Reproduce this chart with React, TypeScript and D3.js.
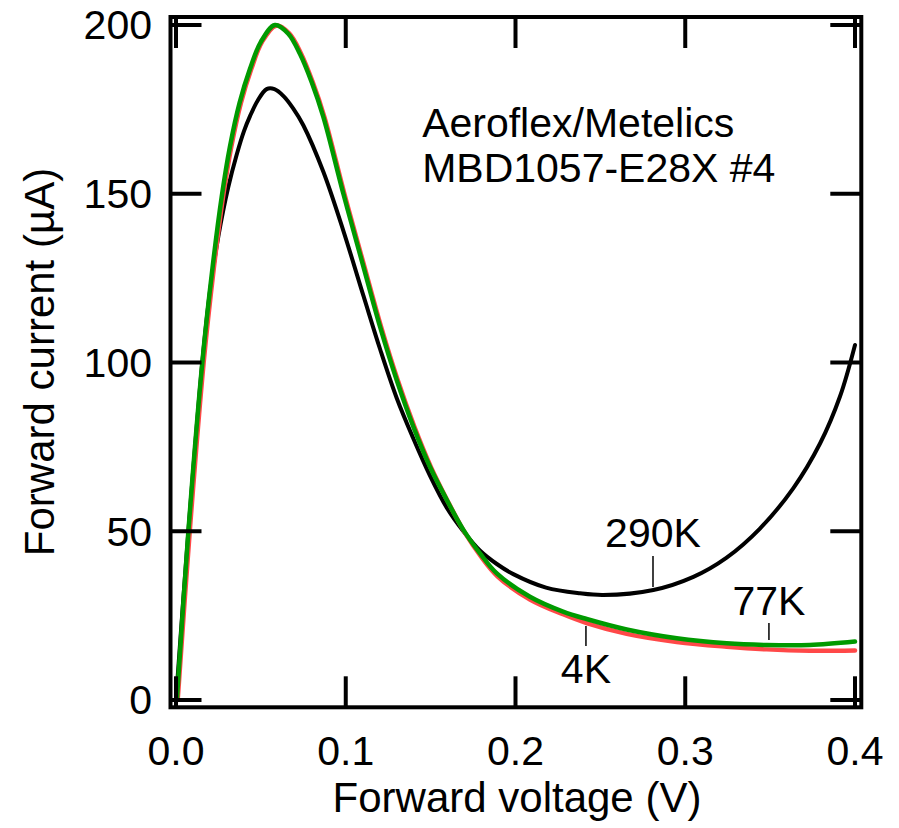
import React from 'react';
import * as d3 from 'd3';

const width = 899;
const height = 828;

const xTicks = [0, 0.1, 0.2, 0.3, 0.4];
const yTicks = [0, 50, 100, 150, 200];

// 290K (black)
const volt290 = [0, 0.0073, 0.0155, 0.02, 0.025, 0.0308, 0.0357, 0.04, 0.0436, 0.048, 0.0534, 0.058, 0.0632, 0.069, 0.075, 0.0868, 0.0986, 0.1104, 0.1202, 0.130, 0.1398, 0.1496, 0.1595, 0.1693, 0.179, 0.189, 0.1987, 0.218, 0.238, 0.2517, 0.2812, 0.3048, 0.3244, 0.344, 0.3637, 0.3794, 0.3912, 0.40];
const cur290 = [0, 50, 100, 121, 137.5, 152, 161.5, 168.5, 173, 177.5, 181, 181, 179, 175.3, 170.3, 156.5, 139, 119.8, 104, 89.5, 77.5, 66.5, 57, 50, 44.3, 40.3, 37.3, 33.3, 31.6, 31.1, 32.6, 36.5, 42.2, 50.8, 62.8, 76, 90, 105.2];

// 77K (green)
const volt77 = [0.0005, 0.0073, 0.0155, 0.0215, 0.0269, 0.0318, 0.0375, 0.0436, 0.05, 0.0583, 0.066, 0.073, 0.08, 0.0868, 0.0986, 0.1104, 0.1202, 0.130, 0.1398, 0.1496, 0.1595, 0.1693, 0.179, 0.189, 0.2085, 0.228, 0.2419, 0.2655, 0.295, 0.3244, 0.348, 0.3733, 0.40];
const cur77 = [0, 50, 100, 128, 149, 164, 177, 187, 195, 200, 197.5, 191.5, 183, 172.8, 150, 128.4, 110.6, 94.8, 81, 69.1, 59.3, 50.4, 43.5, 37.5, 30.6, 26.2, 24, 20.9, 18.3, 16.8, 16.3, 16.3, 17.3];

// 4K (red)
const volt4 = [0.001, 0.0081, 0.0163, 0.0223, 0.0277, 0.0326, 0.0383, 0.0444, 0.0507, 0.059, 0.0667, 0.0737, 0.0806, 0.0874, 0.0992, 0.111, 0.1208, 0.1306, 0.1404, 0.1502, 0.1601, 0.1699, 0.1795, 0.1895, 0.2085, 0.228, 0.2419, 0.2655, 0.295, 0.3244, 0.348, 0.3733, 0.40];
const cur4 = [0, 50, 100, 128, 149, 164, 177, 187, 195, 199.8, 197.5, 191.5, 183, 172.8, 150, 128.4, 110.6, 94.8, 81, 69, 58.9, 49.8, 42.6, 36.6, 29.8, 25.4, 22.8, 19.6, 17.2, 15.8, 15, 14.6, 14.7];

// curve labels: text, label position, pointer line (x, y top, y bottom)
const curveLabels = ['290K', '77K', '4K'];
const labelVolt = [0.281, 0.3493, 0.2415];
const labelCur = [45.3, 25.2, 5];
const pointerTop = [42.7, 22.8, 21.9];
const pointerBottom = [33.5, 17.8, 16];

const noteLines = ['Aeroflex/Metelics', 'MBD1057-E28X #4'];

const font = '"Liberation Sans", Arial, Helvetica, sans-serif';

const x = d3.scaleLinear().domain([0, 0.4]).range([176, 855]);
const y = d3.scaleLinear().domain([0, 200]).range([700, 25]);

const frame = { left: 170.5, right: 861.3, top: 17, bottom: 707.3 };
const tickLen = 31;

const line = d3
  .line<[number, number]>()
  .x((d) => x(d[0]))
  .y((d) => y(d[1]))
  .curve(d3.curveCatmullRom.alpha(0.5));

const zip = (a: number[], b: number[]) => a.map((v, i) => [v, b[i]] as [number, number]);

export default function App() {
  const series = [
    { pts: zip(volt290, cur290), color: '#000000', w: 4 },
    { pts: zip(volt4, cur4), color: '#ff4848', w: 4.5 },
    { pts: zip(volt77, cur77), color: '#009a00', w: 4.5 },
  ];

  return (
    <svg
      width={width}
      height={height}
      style={{ position: 'absolute', left: 0, top: 0, background: '#fff' }}
      fontFamily={font}
    >
      {series.map((s, i) => (
        <path key={i} d={line(s.pts) || ''} fill="none" stroke={s.color} strokeWidth={s.w} strokeLinejoin="round" strokeLinecap="round" />
      ))}

      {/* frame */}
      <rect
        x={frame.left}
        y={frame.top}
        width={frame.right - frame.left}
        height={frame.bottom - frame.top}
        fill="none"
        stroke="#000"
        strokeWidth={4}
      />

      {/* ticks, mirrored on all four sides */}
      {yTicks.map((t) => (
        <g key={'y' + t} stroke="#000" strokeWidth={4}>
          <line x1={frame.left} x2={frame.left + tickLen} y1={y(t)} y2={y(t)} />
          <line x1={frame.right} x2={frame.right - tickLen} y1={y(t)} y2={y(t)} />
        </g>
      ))}
      {xTicks.map((t) => (
        <g key={'x' + t} stroke="#000" strokeWidth={4}>
          <line x1={x(t)} x2={x(t)} y1={frame.bottom} y2={frame.bottom - tickLen} />
          <line x1={x(t)} x2={x(t)} y1={frame.top} y2={frame.top + tickLen} />
        </g>
      ))}

      {/* tick labels */}
      {yTicks.map((t) => (
        <text key={'yl' + t} x={152} y={y(t)} dy="0.35em" textAnchor="end" fontSize={41}>
          {t}
        </text>
      ))}
      {xTicks.map((t) => (
        <text key={'xl' + t} x={x(t)} y={765} textAnchor="middle" fontSize={41}>
          {d3.format('.1f')(t)}
        </text>
      ))}

      {/* axis titles */}
      <text x={517} y={812} textAnchor="middle" fontSize={42}>
        Forward voltage (V)
      </text>
      <text transform="translate(54,362) rotate(-90)" textAnchor="middle" fontSize={42}>
        Forward current (µA)
      </text>

      {/* note */}
      {noteLines.map((t, i) => (
        <text key={t} x={x(0.145)} y={y(166.8) + i * 45} fontSize={41}>
          {t}
        </text>
      ))}

      {/* curve labels */}
      {curveLabels.map((t, i) => (
        <g key={t}>
          <text x={x(labelVolt[i])} y={y(labelCur[i])} textAnchor="middle" fontSize={41}>
            {t}
          </text>
          <line
            x1={x(labelVolt[i])}
            x2={x(labelVolt[i])}
            y1={y(pointerTop[i])}
            y2={y(pointerBottom[i])}
            stroke="#000"
            strokeWidth={1.5}
          />
        </g>
      ))}
    </svg>
  );
}
